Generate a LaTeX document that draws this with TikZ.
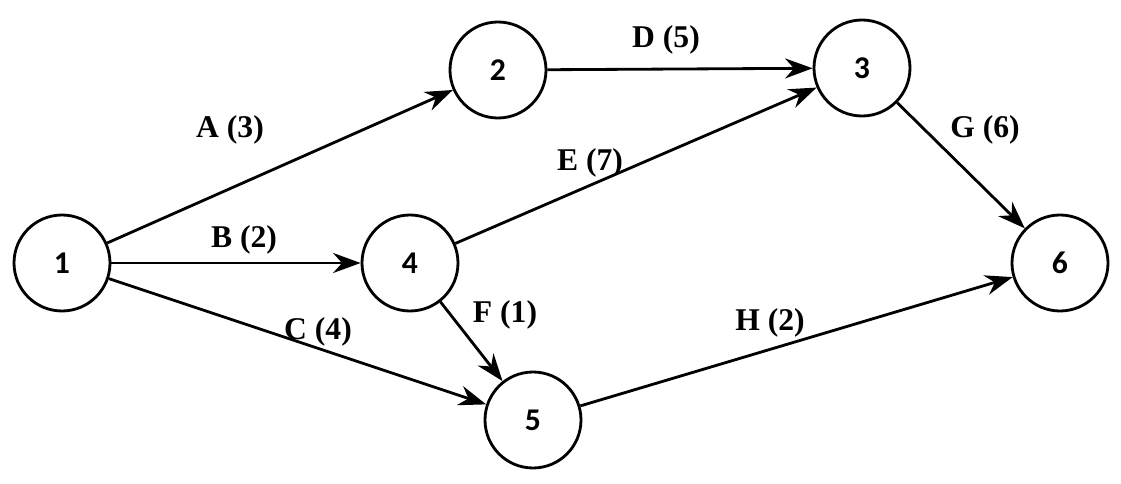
\documentclass[tikz,border=0pt]{standalone}
\usepackage{fontspec}
\setmainfont{Liberation Serif}
\newfontfamily\numfont{Carlito}
\usetikzlibrary{arrows.meta}
\tikzset{
  event/.style={circle,draw,line width=1.6pt,minimum size=1.92cm,inner sep=0pt,font=\numfont\bfseries\fontsize{18}{21}\selectfont},
  act/.style={-{Stealth[length=5.5mm,width=4mm]},line width=1.6pt},
  lbl/.style={font=\bfseries\fontsize{18}{21}\selectfont}
}
\begin{document}
\begin{tikzpicture}
  \useasboundingbox (0,0) rectangle (22.42,9.66);
  % events
  \node[event] (n1) at (1.24,4.40) {1};
  \node[event] (n2) at (9.96,8.26) {2};
  \node[event] (n3) at (17.24,8.30) {3};
  \node[event] (n4) at (8.20,4.40) {4};
  \node[event] (n5) at (10.66,1.26) {5};
  \node[event] (n6) at (21.20,4.40) {6};
  % activities
  \draw[act] (n1) -- (n2);
  \draw[act] (n1) -- (n4);
  \draw[act] (n1) -- (n5);
  \draw[act] (n2) -- (n3);
  \draw[act] (n4) -- (n3);
  \draw[act] (n4) -- (n5);
  \draw[act] (n3) -- (n6);
  \draw[act] (n5) -- (n6);
  % labels
  \node[lbl] (la) at (4.60,7.06) {A (3)};
  \node[lbl] (lb) at (4.88,4.86) {B (2)};
  \node[lbl] (lc) at (6.36,3.02) {C (4)};
  \node[lbl] (ld) at (13.32,8.86) {D (5)};
  \node[lbl] (le) at (11.80,6.40) {E (7)};
  \node[lbl] (lf) at (10.10,3.36) {F (1)};
  \node[lbl] (lg) at (19.70,7.06) {G (6)};
  \node[lbl] (lh) at (15.40,3.20) {H (2)};
\end{tikzpicture}
\end{document}
